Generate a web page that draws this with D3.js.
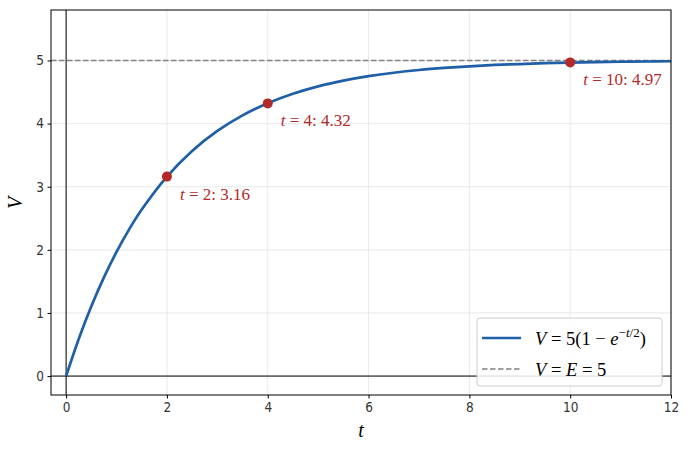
<!DOCTYPE html>
<html><head><meta charset="utf-8">
<script src="https://cdn.jsdelivr.net/npm/d3@7"></script>
<style>
body{margin:0;background:#fff;}
svg{display:block;}
.tick text{font-family:"DejaVu Sans Condensed","DejaVu Sans",sans-serif;font-stretch:condensed;font-size:13.5px;fill:#333;}
.math{font-family:"Liberation Serif","DejaVu Serif",serif;}
</style>
</head><body>
<svg id="c" width="688" height="450"></svg>
<script>
const tValues = [0,0.25,0.5,0.75,1,1.25,1.5,2,2.5,3,3.5,4,4.5,5,5.5,6,6.5,7,7.5,8,8.5,9,9.5,10,10.5,11,11.5,12];
const vValues = [0,0.588,1.106,1.564,1.967,2.324,2.638,3.161,3.567,3.884,4.131,4.323,4.473,4.590,4.680,4.751,4.806,4.849,4.882,4.908,4.929,4.944,4.957,4.966,4.974,4.980,4.984,4.988];
const markT = [2,4,10];
const markV = [3.16,4.32,4.97];
const markLabels = ["2: 3.16","4: 4.32","10: 4.97"];
const asymptote = 5;
const xTicks = [0,2,4,6,8,10,12];
const yTicks = [0,1,2,3,4,5];

const W=688,H=450,m={l:51,r:17,t:10,b:55};
const svg=d3.select("#c");
const x=d3.scaleLinear().domain([-0.3,12]).range([m.l,W-m.r]);
const y=d3.scaleLinear().domain([-0.3,5.8]).range([H-m.b,m.t]);

// grid
const g=svg.append("g");
g.selectAll(".gx").data(xTicks).join("line").attr("x1",d=>x(d)).attr("x2",d=>x(d)).attr("y1",m.t).attr("y2",H-m.b).attr("stroke","#e3e3e3").attr("stroke-width",0.8);
g.selectAll(".gy").data(yTicks).join("line").attr("y1",d=>y(d)).attr("y2",d=>y(d)).attr("x1",m.l).attr("x2",W-m.r).attr("stroke","#e3e3e3").attr("stroke-width",0.8);

// zero axes
svg.append("line").attr("x1",x(0)).attr("x2",x(0)).attr("y1",m.t).attr("y2",H-m.b).attr("stroke","#000").attr("stroke-width",1);
svg.append("line").attr("y1",y(0)).attr("y2",y(0)).attr("x1",m.l).attr("x2",W-m.r).attr("stroke","#000").attr("stroke-width",1);

// asymptote
svg.append("line").attr("x1",m.l).attr("x2",W-m.r).attr("y1",y(asymptote)).attr("y2",y(asymptote))
  .attr("stroke","#808080").attr("stroke-width",1.5).attr("stroke-dasharray","5.5,2.5");

// curve
const data=tValues.map((t,i)=>({t,v:vValues[i]}));
svg.append("path").datum(data).attr("fill","none").attr("stroke","#1f5fa8").attr("stroke-width",2.7)
  .attr("d",d3.line().x(d=>x(d.t)).y(d=>y(d.v)).curve(d3.curveCatmullRom));

// markers
const pts=markT.map((t,i)=>({t,v:markV[i],lab:markLabels[i]}));
svg.selectAll(".pt").data(pts).join("circle").attr("cx",d=>x(d.t)).attr("cy",d=>y(d.v)).attr("r",5).attr("fill","#b22a2a");
const lt=svg.selectAll(".lab").data(pts).join("text").attr("class","math")
  .attr("x",d=>x(d.t)+13).attr("y",d=>y(d.v)+23).attr("font-size",17).attr("fill","#b22a2a");
lt.append("tspan").attr("font-style","italic").text("t");
lt.append("tspan").text(d=>" = "+d.lab);

// axes
svg.append("g").attr("transform",`translate(0,${H-m.b})`).call(d3.axisBottom(x).tickValues(xTicks).tickSize(3.5).tickPadding(3.5).tickFormat(d3.format("d")))
  .call(a=>a.select(".domain").remove());
svg.append("g").attr("transform",`translate(${m.l},0)`).call(d3.axisLeft(y).tickValues(yTicks).tickSize(3.5).tickPadding(3.5).tickFormat(d3.format("d")))
  .call(a=>a.select(".domain").remove());
svg.selectAll(".tick line").attr("stroke","#000");

// frame
svg.append("rect").attr("x",m.l).attr("y",m.t).attr("width",W-m.l-m.r).attr("height",H-m.t-m.b).attr("fill","none").attr("stroke","#000").attr("stroke-width",1);

// axis labels
svg.append("text").attr("class","math").attr("x",(x(-0.3)+x(12))/2).attr("y",437).attr("text-anchor","middle").attr("font-size",20).attr("font-style","italic").text("t");
svg.append("text").attr("class","math").attr("transform","translate(22,203) rotate(-90)").attr("text-anchor","middle").attr("font-size",20).attr("font-style","italic").text("V");

// legend
const lg=svg.append("g");
lg.append("rect").attr("x",477).attr("y",318).attr("width",185).attr("height",68).attr("rx",3).attr("fill","#fff").attr("fill-opacity",0.85).attr("stroke","#cccccc");
lg.append("line").attr("x1",482).attr("x2",521).attr("y1",338).attr("y2",338).attr("stroke","#1f5fa8").attr("stroke-width",2.7);
lg.append("line").attr("x1",482).attr("x2",521).attr("y1",369).attr("y2",369).attr("stroke","#808080").attr("stroke-width",1.5).attr("stroke-dasharray","5.5,2.5");
const t1=lg.append("text").attr("class","math").attr("x",535).attr("y",345).attr("font-size",18.5);
t1.append("tspan").attr("font-style","italic").text("V");
t1.append("tspan").text(" = 5(1 − ");
t1.append("tspan").attr("font-style","italic").text("e");
t1.append("tspan").attr("font-size",13).attr("dy",-8).text("−");
t1.append("tspan").attr("font-size",13).attr("font-style","italic").text("t");
t1.append("tspan").attr("font-size",13).text("/2");
t1.append("tspan").attr("dy",8).text(")");
const t2=lg.append("text").attr("class","math").attr("x",535).attr("y",376).attr("font-size",18.5);
t2.append("tspan").attr("font-style","italic").text("V");
t2.append("tspan").text(" = ");
t2.append("tspan").attr("font-style","italic").text("E");
t2.append("tspan").text(" = 5");
</script>
</body></html>
